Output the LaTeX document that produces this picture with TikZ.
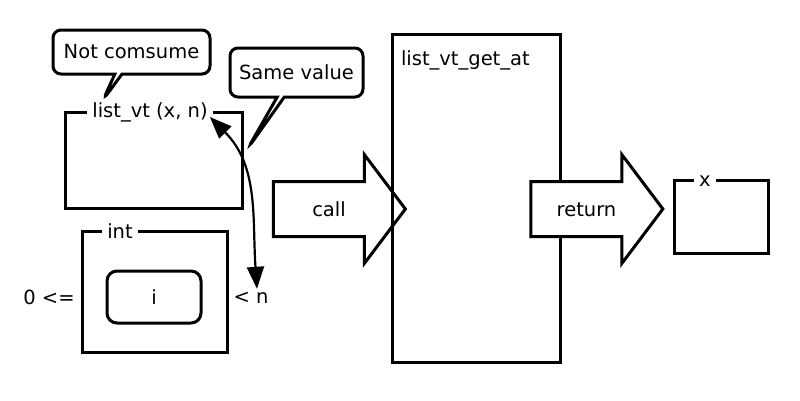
\documentclass[tikz,border=0pt]{standalone}
\usepackage{fontspec}
\setmainfont{DejaVu Sans}
\usetikzlibrary{arrows.meta,positioning,shapes.arrows,shapes.callouts,calc}
\tikzset{
  valbox/.style={draw,line width=3pt,inner sep=0pt},
  boxlabel/.style={fill=white,inner sep=5pt},
  blockarrow/.style={single arrow,draw,fill=white,line width=3pt,text height=15pt,text depth=0pt,
    inner xsep=4pt,inner ysep=18.5pt,single arrow head extend=27pt,single arrow tip angle=106,minimum height=132pt},
  bubble/.style={rectangle callout,draw,fill=white,rounded corners=8pt,line width=3pt,inner sep=2pt}
}
\begin{document}
\begin{tikzpicture}[x=1pt,y=-1pt,font=\fontsize{19.5}{23}\selectfont,
  >={Triangle[length=22pt,width=17pt]}]
  \useasboundingbox (0,0) rectangle (800,400);

  % --- Argument boxes ---
  \node[valbox,minimum width=177,minimum height=96] (lvbox) at (153.5,160) {};
  \node[boxlabel] (lvlabel) at (150,112) {list\_vt (x, n)};
  \node[valbox,minimum width=145,minimum height=121] (intbox) at (154.5,291.5) {};
  \node[boxlabel] (intlabel) at (120,231) {int};
  \node[valbox,rounded corners=10pt,minimum width=94,minimum height=52] (ibox) at (154,297) {i};
  \node (lower) at (49,297) {0 <=};
  \node (upper) at (251,298) {< n};

  % --- Call arrow (under the function box) ---
  \node[blockarrow] (call) at (329,209) {call};

  % --- Function box ---
  \node[valbox,minimum width=168,minimum height=328] (fnbox) at (476,198) {};
  \node[anchor=north west] (fnlabel) at ($(fnbox.north west)+(7,15)$) {list\_vt\_get\_at};

  % --- Return arrow and result ---
  \node[blockarrow] (return) at (586.5,209) {return};
  \node[valbox,minimum width=94,minimum height=73] (xbox) at (721,216.5) {};
  \node[boxlabel] (xlabel) at (705,181) {x};

  % --- Callouts ---
  \node[bubble,minimum width=157,minimum height=44,callout absolute pointer={(103,100)}] (consume) at (131.5,52) {Not comsume};
  \node[bubble,minimum width=133,minimum height=49,callout absolute pointer={(248,148)}] (same) at (296.5,72.5) {Same value};

  % --- Same value link ---
  \draw[<->,line width=2.2pt] ($(lvlabel.east)+(-3,5)$) to[out=-45,in=94] ($(upper.north)+(6,0)$);
\end{tikzpicture}
\end{document}
